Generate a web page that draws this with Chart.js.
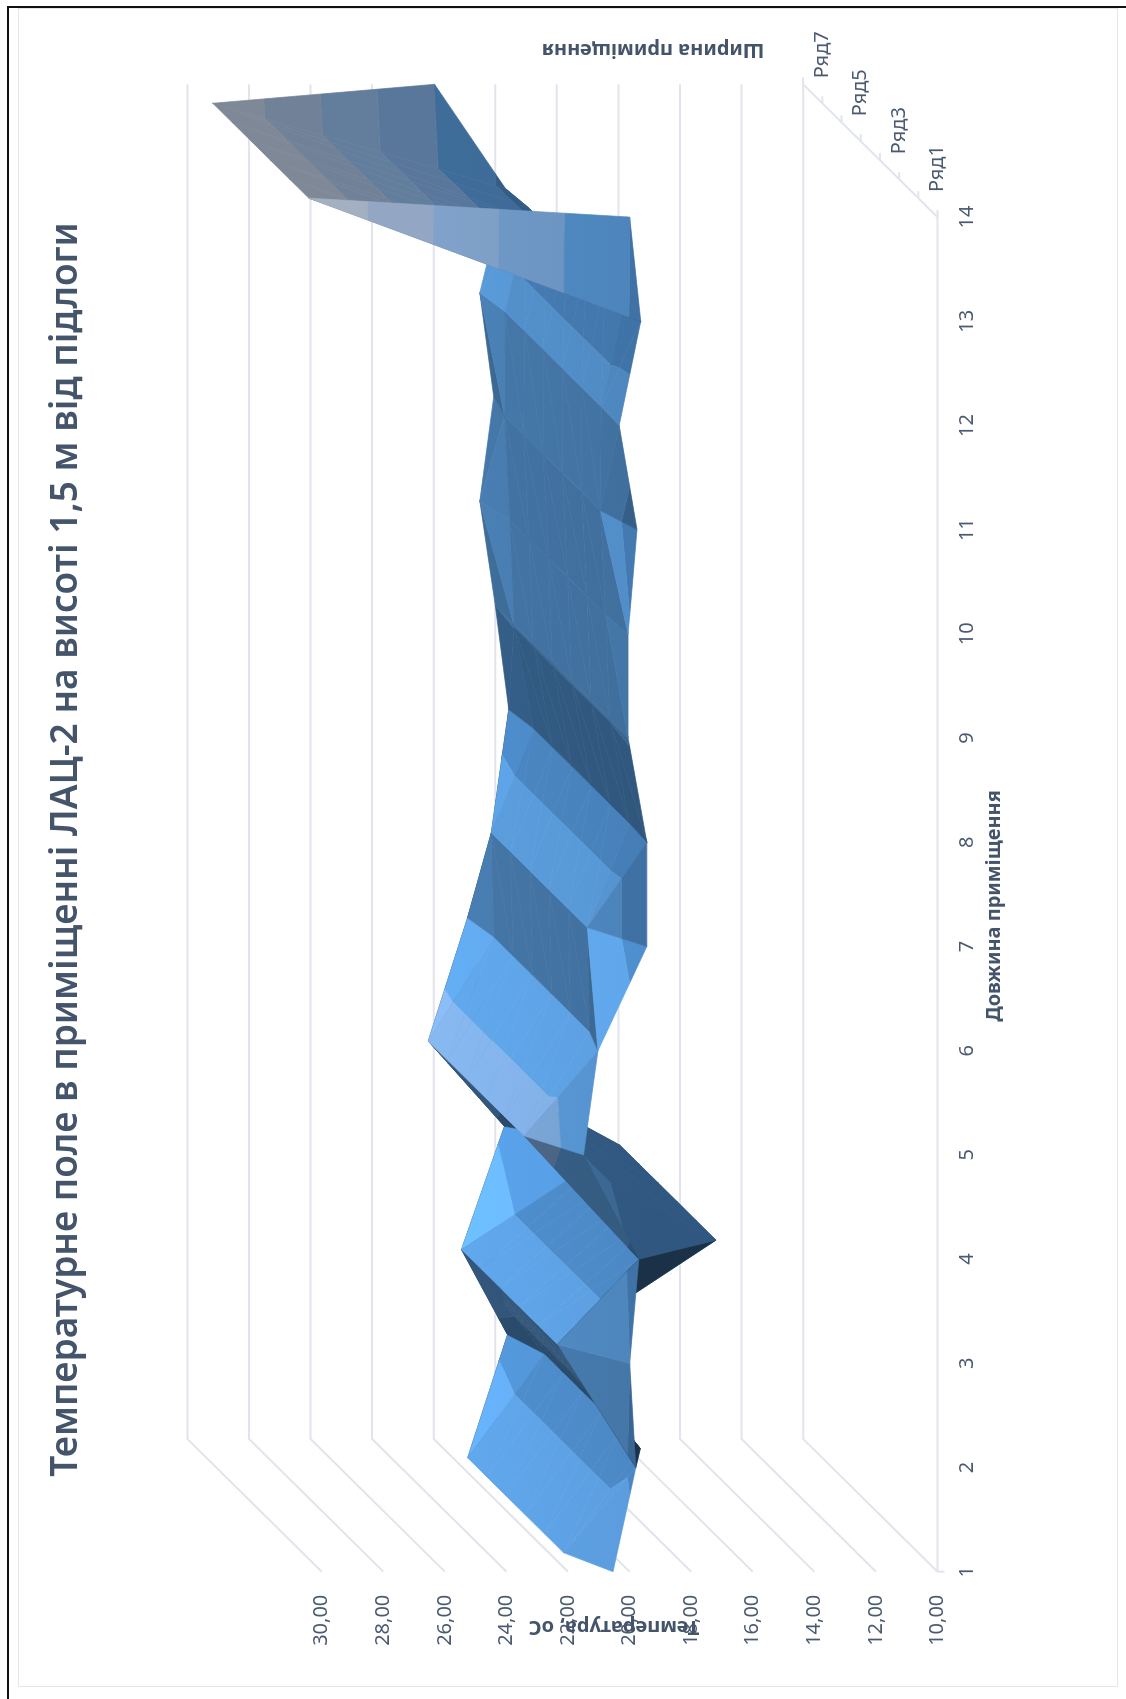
<!DOCTYPE html>
<html>
<head>
<meta charset="utf-8">
<title>Температурне поле</title>
<script src="https://cdn.jsdelivr.net/npm/chart.js@4"></script>
<style>
  html, body { margin: 0; background: #fff; overflow: hidden; }
  #page { position: relative; width: 1126px; height: 1699px; overflow: hidden; }
  #blackTop { position: absolute; left: 7px; top: 6px; right: 0; height: 2px; background: #111; }
  #blackLeft { position: absolute; left: 7px; top: 6px; bottom: 0; width: 2px; background: #111; }
  #frame { position: absolute; left: 18px; top: 8px; width: 1098px; height: 1677px; border: 1.5px solid #e2e6ec; }
  #chart { position: absolute; left: 0; top: 0; transform-origin: 0 0; transform: translate(0, 1699px) rotate(-90deg); }
</style>
</head>
<body>
<div id="page">
  <div id="blackTop"></div>
  <div id="blackLeft"></div>
  <div id="frame"></div>
  <canvas id="chart" width="1699" height="1126"></canvas>
</div>
<script>
// measurement rows, temperature in degrees along the room length
const lengths = [1, 2, 3, 4, 5, 6, 7, 8, 9, 10, 11, 12, 13, 14];
const row1 = [20.54, 19.8, 20.0, 19.7, 21.5, 21.03, 19.44, 19.44, 20.05, 20.05, 19.76, 20.34, 19.64, 20.0];
const row2 = [21.52, 19.03, 21.72, 16.57, 22.8, 20.67, 20.75, 19.38, 20.02, 20.15, 20.32, 20.3, 19.55, 29.8];
const row3 = [21.52, 19.03, 21.72, 16.57, 22.8, 20.67, 20.75, 19.38, 20.02, 20.15, 20.32, 20.3, 19.55, 29.8];
const row4 = [21.52, 19.03, 21.72, 16.57, 22.8, 20.67, 20.75, 19.38, 20.02, 20.15, 20.32, 20.3, 19.55, 29.8];
const row5 = [21.52, 19.03, 21.72, 16.57, 22.8, 20.67, 20.75, 19.38, 20.02, 20.15, 20.32, 20.3, 19.55, 29.8];
const row6 = [21.52, 19.03, 21.72, 16.57, 22.8, 20.67, 20.75, 19.38, 20.02, 20.15, 20.32, 20.3, 19.55, 29.8];
const row7 = [21.52, 19.03, 21.72, 16.57, 22.8, 20.67, 20.75, 19.38, 20.02, 20.15, 20.32, 20.3, 19.55, 29.8];
const row8 = [20.0, 19.6, 20.0, 19.7, 20.2, 20.9, 19.9, 19.56, 20.0, 20.5, 20.05, 20.5, 19.67, 21.97];
const rows = [row1, row2, row3, row4, row5, row6, row7, row8];

const tempTicks = [10, 12, 14, 16, 18, 20, 22, 24, 26, 28, 30];
const seriesLabels = ["Ряд1", "Ряд3", "Ряд5", "Ряд7"];
const seriesLabelDepths = [1, 3, 5, 7];

const titleText = "Температурне поле в приміщенні ЛАЦ-2 на висоті 1,5 м від підлоги";
const lengthTitle = "Довжина приміщення";
const widthTitle = "Ширина приміщення";
const tempTitle = "Температура, оС";

// oblique projection: each depth step shifts a point right and up
const SHIFT_X = 0.182;
const SHIFT_Y = 0.6235;
const DEPTH_MAX = rows.length - 1;
const project = (x, d, t) => ({ x: x + SHIFT_X * d, y: t + SHIFT_Y * d });

// fill colour of each 2-degree band, keyed by its lower bound
const bandColors = {
  10: [60, 110, 160], 12: [60, 110, 160], 14: [60, 110, 165], 16: [74, 134, 194],
  18: [74, 134, 194], 20: [90, 156, 220], 22: [125, 170, 222],
  24: [141, 179, 223], 26: [162, 184, 216], 28: [180, 194, 214],
};

function upNormal(a, b, c, depthUnit) {
  const u = [(b.x - a.x) * 104, (b.d - a.d) * depthUnit, (b.t - a.t) * 30.7];
  const v = [(c.x - a.x) * 104, (c.d - a.d) * depthUnit, (c.t - a.t) * 30.7];
  const n = [u[1] * v[2] - u[2] * v[1], u[2] * v[0] - u[0] * v[2], u[0] * v[1] - u[1] * v[0]];
  const sign = n[2] < 0 ? -1 : 1;
  const len = Math.hypot(n[0], n[1], n[2]) || 1;
  return n.map((q) => (q * sign) / len);
}

function faceShade(a, b, c) {
  const n = upNormal(a, b, c, 60);
  // seen from underneath when the normal turns away from the viewing direction
  const m = upNormal(a, b, c, 27);
  if (m[0] * 18.96 - m[1] * 27 + m[2] * 19.14 < 0) {
    return n[2] > 0.4 && n[1] > 0.25 ? 0.38 : 0.68;
  }
  if (n[1] < -0.9) return 0.88; // steep wall facing the front
  if (n[1] < -0.5 && n[0] > 0.4) return 1.2; // corner turned to the light
  const light = n[0] * 0.52 - n[1] * 0.36 + n[2] * 0.77;
  const slope = light < 0.77 ? 0.7 : 1.75;
  const shade = Math.min(1.3, Math.max(0.55, 0.75 + slope * (light - 0.77)));
  return n[0] > 0.5 ? Math.max(shade, 1.05) : shade;
}

function clipBelow(poly, level, keepAbove) {
  const out = [];
  poly.forEach((p, i) => {
    const q = poly[(i + 1) % poly.length];
    const pIn = keepAbove ? p.t >= level : p.t <= level;
    const qIn = keepAbove ? q.t >= level : q.t <= level;
    if (pIn) out.push(p);
    if (pIn !== qIn) {
      const f = (level - p.t) / (q.t - p.t);
      out.push({ x: p.x + (q.x - p.x) * f, d: p.d + (q.d - p.d) * f, t: level });
    }
  });
  return out;
}

// split a triangle at every even temperature so each band gets its own colour
function triangleDatasets(a, b, c) {
  const shade = faceShade(a, b, c);
  const result = [];
  for (let lo = 10; lo < 30; lo += 2) {
    let poly = clipBelow([a, b, c], lo, true);
    if (poly.length) poly = clipBelow(poly, lo + 2, false);
    if (poly.length < 3) continue;
    const pts = poly.map((p) => project(p.x, p.d, p.t));
    pts.push(pts[0]);
    result.push({
      data: pts,
      showLine: true,
      pointRadius: 0,
      borderWidth: 0,
      rgb: bandColors[lo].map((q) => q * shade),
      clip: false,
    });
  }
  return result;
}

// painted far to near: back rows first, low x first inside a row
function surfaceDatasets() {
  const painted = [];
  for (let d = DEPTH_MAX - 1; d >= 0; d--) {
    for (let i = 0; i < lengths.length - 1; i++) {
      const p00 = { x: lengths[i], d: d, t: rows[d][i] };
      const p10 = { x: lengths[i + 1], d: d, t: rows[d][i + 1] };
      const p01 = { x: lengths[i], d: d + 1, t: rows[d + 1][i] };
      const p11 = { x: lengths[i + 1], d: d + 1, t: rows[d + 1][i + 1] };
      // the cell folds along its higher diagonal
      if (p00.t + p11.t >= p01.t + p10.t) {
        painted.push(...triangleDatasets(p00, p01, p11));
        painted.push(...triangleDatasets(p00, p10, p11));
      } else {
        painted.push(...triangleDatasets(p10, p01, p11));
        painted.push(...triangleDatasets(p00, p10, p01));
      }
    }
  }
  return painted;
}

function gridLine(points) {
  return {
    data: points,
    showLine: true,
    pointRadius: 0,
    borderWidth: 2,
    borderColor: "#e1e4ec",
    clip: false,
  };
}

function gridDatasets() {
  const first = lengths[0];
  const last = lengths[lengths.length - 1];
  const lines = tempTicks.map((t) =>
    gridLine([project(first, 0, t), project(first, DEPTH_MAX, t), project(last, DEPTH_MAX, t)])
  );
  // floor edges and the short tick marks along them
  const floor = tempTicks[0];
  lines.push(gridLine([project(first, 0, floor), project(last, 0, floor), project(last, DEPTH_MAX, floor)]));
  lines.push(gridLine([project(first, 0, floor), project(first, 0, floor - 0.23)]));
  for (let d = 0; d <= DEPTH_MAX; d++) {
    lines.push(gridLine([project(last, d, floor), project(last + 0.067, d, floor)]));
  }
  return lines;
}

const toned = (rgb, tone) => `rgb(${rgb.map((q) => Math.min(255, Math.round(q * tone))).join(",")})`;

// fills each surface polygon from its scaled points, just before it is drawn
const polygonFill = {
  id: "polygonFill",
  beforeDatasetDraw(chart, args) {
    const ds = chart.data.datasets[args.index];
    if (!ds.rgb) return;
    const ctx = chart.ctx;
    // lighter toward the top of the strip, darker toward the bottom
    const gradient = ctx.createLinearGradient(0, 450, 0, 650);
    gradient.addColorStop(0, toned(ds.rgb, 1.03));
    gradient.addColorStop(1, toned(ds.rgb, 0.96));
    ctx.save();
    ctx.fillStyle = gradient;
    ctx.strokeStyle = gradient;
    ctx.lineWidth = 0.7;
    ctx.lineJoin = "round";
    ctx.beginPath();
    args.meta.data.forEach((pt, i) => (i ? ctx.lineTo(pt.x, pt.y) : ctx.moveTo(pt.x, pt.y)));
    ctx.closePath();
    ctx.fill();
    ctx.stroke();
    ctx.restore();
  },
};

// axis captions and the series labels on the floor edge
const axisCaptions = {
  id: "axisCaptions",
  afterDraw(chart) {
    const { ctx, scales } = chart;
    const last = lengths[lengths.length - 1];
    ctx.save();
    ctx.fillStyle = "#4a5a72";
    ctx.textBaseline = "middle";
    ctx.textAlign = "left";
    ctx.font = '20px "Noto Sans"';
    seriesLabels.forEach((label, i) => {
      const p = project(last, seriesLabelDepths[i], tempTicks[0]);
      ctx.fillText(label, scales.x.getPixelForValue(p.x) + 6, scales.y.getPixelForValue(p.y) + 19);
    });
    ctx.fillStyle = "#44546a";
    ctx.textAlign = "center";
    ctx.font = 'bold 20px "Noto Sans"';
    ctx.fillText(lengthTitle, 793, 994);
    const turned = (text, x, y) => {
      ctx.save();
      ctx.translate(x, y);
      ctx.rotate(-Math.PI / 2);
      ctx.fillText(text, 0, 0);
      ctx.restore();
    };
    turned(tempTitle, 72, 614);
    turned(widthTitle, 1649, 653);
    ctx.restore();
  },
};

const datasets = [...surfaceDatasets().reverse(), ...gridDatasets()];

new Chart(document.getElementById("chart").getContext("2d"), {
  type: "scatter",
  data: { datasets: datasets },
  plugins: [polygonFill, axisCaptions],
  options: {
    responsive: false,
    animation: false,
    events: [],
    layout: { padding: 0 },
    plugins: {
      legend: { display: false },
      tooltip: { enabled: false },
      title: {
        display: true,
        text: titleText,
        color: "#44546a",
        font: { family: "Noto Sans", size: 37, weight: "600", lineHeight: 1.2 },
        padding: { top: 44, bottom: 99 },
      },
    },
    scales: {
      x: {
        type: "linear",
        min: 1,
        max: 16.083,
        grid: { display: false, drawTicks: false },
        border: { display: false },
        afterBuildTicks(scale) {
          scale.ticks = lengths.map((v) => ({ value: v }));
        },
        afterFit(scale) {
          scale.height = 188.5;
        },
        ticks: {
          autoSkip: false,
          maxRotation: 0,
          padding: 17.5,
          color: "#4a5a72",
          font: { family: "Noto Sans", size: 20 },
          callback: (v) => String(v),
        },
      },
      y: {
        type: "linear",
        min: tempTicks[0],
        max: tempTicks[tempTicks.length - 1] + SHIFT_Y * DEPTH_MAX,
        grid: { display: false, drawTicks: false },
        border: { display: false },
        afterBuildTicks(scale) {
          scale.ticks = tempTicks.map((v) => ({ value: v }));
        },
        afterFit(scale) {
          scale.width = 127.3;
        },
        ticks: {
          autoSkip: false,
          padding: 23,
          color: "#4a5a72",
          font: { family: "Noto Sans", size: 20 },
          callback: (v) => v.toFixed(2).replace(".", ","),
        },
      },
    },
  },
});
</script>
</body>
</html>
